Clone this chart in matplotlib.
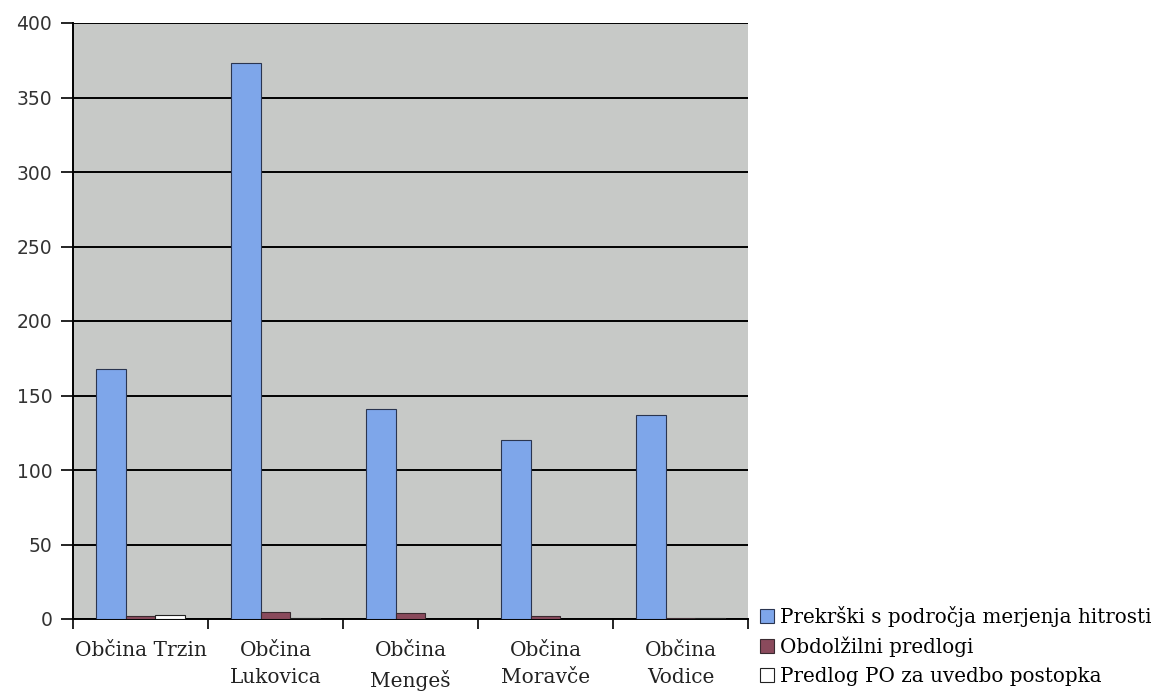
import numpy as np
import matplotlib.pyplot as plt

# podatki
obcine = ['Občina Trzin', 'Občina\nLukovica', 'Občina\nMengeš', 'Občina\nMoravče', 'Občina\nVodice']
serije = ['Prekrški s področja merjenja hitrosti', 'Obdolžilni predlogi', 'Predlog PO za uvedbo postopka']
prekrski = [168, 373, 141, 120, 137]
obdolzilni = [2, 5, 4, 2, 1]
predlog_po = [3, 1, 0, 0, 1]
yticks = [0, 50, 100, 150, 200, 250, 300, 350, 400]

barve = ['#7ea6ea', '#8a4a5c', '#ffffff']
robovi = ['#2a3550', '#3a2a30', '#222222']

fig = plt.figure(figsize=(11.57, 6.92), dpi=100)
ax = fig.add_axes([73 / 1157, 73 / 692, 675 / 1157, 596 / 692])
ax.set_facecolor('#c7c9c7')

x = np.arange(len(obcine))
w = 0.22
for i, (vals, c, ec) in enumerate(zip([prekrski, obdolzilni, predlog_po], barve, robovi)):
    ax.bar(x + (i - 1) * w, vals, w, color=c, edgecolor=ec, linewidth=0.8,
           label=serije[i], zorder=3)

ax.set_xlim(-0.5, len(obcine) - 0.5)
ax.set_ylim(0, 400)
ax.set_yticks(yticks)
ax.set_yticklabels([str(t) for t in yticks], fontsize=13.5, color='#333333')
ax.grid(axis='y', color='black', linewidth=1.4, zorder=1)
ax.tick_params(axis='y', length=9, width=1.2, pad=6, direction='out')

# oznake kategorij, tick-i med kategorijami
ax.set_xticks(x)
ax.set_xticklabels(obcine, fontsize=14.5, family='DejaVu Serif', linespacing=1.55, va='top',
                   color='#222222')
ax.tick_params(axis='x', length=0, pad=16)
ax.set_xticks(np.arange(len(obcine) + 1) - 0.5, minor=True)
ax.tick_params(axis='x', which='minor', length=7, width=1.2, direction='out')

for s in ['top', 'right']:
    ax.spines[s].set_visible(False)
ax.spines['left'].set_linewidth(1.4)
ax.spines['bottom'].set_linewidth(1.4)

leg = fig.legend(loc='upper left', bbox_to_anchor=(742 / 1157, 1 - 588 / 692), frameon=False,
                 prop={'family': 'DejaVu Serif', 'size': 14.3}, handlelength=0.7,
                 handleheight=0.7, handletextpad=0.3, labelspacing=0.5)

fig.savefig('out.png', dpi=100)
